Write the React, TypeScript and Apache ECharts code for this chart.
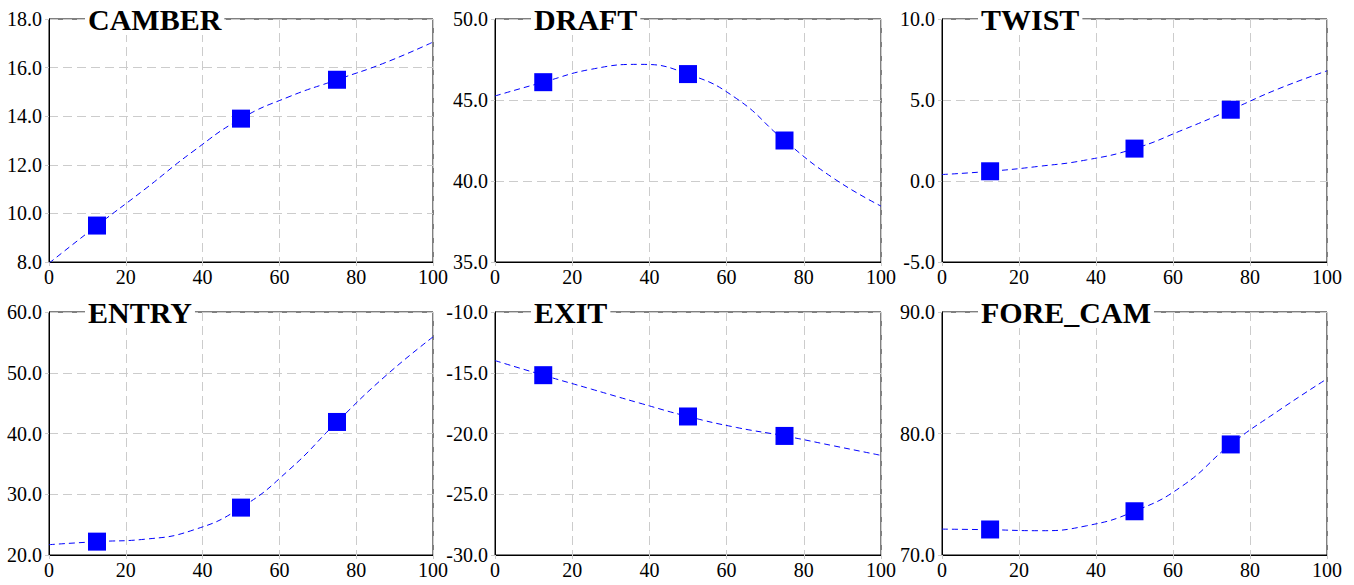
import React, { useEffect, useRef } from "react";
import * as echarts from "echarts";

// Data
const markerX = [12.5, 50, 75];
const curveX = [0, 12.5, 25, 37.5, 50, 62.5, 75, 87.5, 100];

const camberMarkers = [9.5, 13.9, 15.5];
const camberCurve = [7.95, 9.5, 11.0, 12.55, 13.9, 14.8, 15.5, 16.2, 17.05];

const draftMarkers = [46.1, 46.6, 42.5];
const draftCurve = [45.25, 46.1, 46.9, 47.2, 46.6, 45.1, 42.5, 40.2, 38.45];

const twistMarkers = [0.6, 2.0, 4.4];
const twistCurve = [0.4, 0.6, 0.9, 1.3, 2.0, 3.15, 4.4, 5.7, 6.8];

const entryMarkers = [22.2, 27.8, 41.9];
const entryCurve = [21.7, 22.2, 22.6, 24.1, 27.8, 34.0, 41.9, 49.4, 55.9];

const exitMarkers = [-15.2, -18.6, -20.2];
const exitCurve = [-14.0, -15.2, -16.35, -17.5, -18.6, -19.5, -20.2, -21.0, -21.8];

const foreCamMarkers = [72.1, 73.6, 79.1];
const foreCamCurve = [72.13, 72.08, 72.0, 72.4, 73.6, 75.7, 79.1, 81.9, 84.5];

const panelTitles = ["CAMBER", "DRAFT", "TWIST", "ENTRY", "EXIT", "FORE_CAM"];
const yMins = [8, 35, -5, 20, -30, 70];
const yMaxs = [18, 50, 10, 60, -10, 90];
const yIntervals = [2, 5, 5, 10, 5, 10];
const xTickInterval = 20;

const panelMarkers = [camberMarkers, draftMarkers, twistMarkers, entryMarkers, exitMarkers, foreCamMarkers];
const panelCurves = [camberCurve, draftCurve, twistCurve, entryCurve, exitCurve, foreCamCurve];

const gridBoxes = [
  { left: 49, top: 19, width: 384, height: 243 },
  { left: 495, top: 19, width: 386, height: 243 },
  { left: 942, top: 19, width: 385, height: 243 },
  { left: 49, top: 312, width: 384, height: 243 },
  { left: 495, top: 312, width: 386, height: 243 },
  { left: 942, top: 312, width: 385, height: 243 },
];

const SERIF = "Liberation Serif, serif";

export default function App() {
  const ref = useRef<HTMLDivElement>(null);
  useEffect(() => {
    if (!ref.current) return;
    const chart = echarts.init(ref.current, undefined, { renderer: "svg" });
    const grids: any[] = [];
    const xAxes: any[] = [];
    const yAxes: any[] = [];
    const series: any[] = [];
    const titles: any[] = [];
    const labelStyle = { fontFamily: SERIF, fontSize: 20, color: "#000" };
    gridBoxes.forEach((g, i) => {
      grids.push({ ...g, show: true, borderColor: "#000", borderWidth: 1, backgroundColor: "#fff" });
      xAxes.push({
        type: "value",
        gridIndex: i,
        min: 0,
        max: 100,
        interval: xTickInterval,
        axisLine: { show: true, onZero: false, lineStyle: { color: "#000", width: 1 } },
        axisTick: { show: true, length: 4, lineStyle: { color: "#ccc" } },
        axisLabel: {
          margin: 5,
          formatter: (v: number) => "{t|" + v + "}",
          rich: { t: labelStyle },
        },
        splitLine: { show: true, lineStyle: { color: "#ccc", type: [9, 5], width: 1 } },
      });
      yAxes.push({
        type: "value",
        gridIndex: i,
        min: yMins[i],
        max: yMaxs[i],
        interval: yIntervals[i],
        axisLine: { show: true, onZero: false, lineStyle: { color: "#000", width: 1 } },
        axisTick: { show: true, length: 4, lineStyle: { color: "#ccc" } },
        axisLabel: {
          margin: 7,
          formatter: (v: number) => "{t|" + v.toFixed(1) + "}",
          rich: { t: labelStyle },
        },
        splitLine: { show: true, lineStyle: { color: "#ccc", type: [9, 5], width: 1 } },
      });
      series.push({
        type: "line",
        xAxisIndex: i,
        yAxisIndex: i,
        data: curveX.map((x, k) => [x, panelCurves[i][k]]),
        smooth: 0.5,
        showSymbol: false,
        symbol: "none",
        lineStyle: { color: "#0000ff", width: 1, type: [6, 4] },
        z: 3,
      });
      series.push({
        type: "scatter",
        xAxisIndex: i,
        yAxisIndex: i,
        data: markerX.map((x, k) => [x, panelMarkers[i][k]]),
        symbol: "rect",
        symbolSize: 18,
        itemStyle: { color: "#0000ff", opacity: 1 },
        z: 4,
      });
      titles.push({
        text: panelTitles[i],
        left: g.left + 36,
        top: g.top - 15,
        padding: [0, 3],
        backgroundColor: "#fff",
        textStyle: {
          fontFamily: SERIF,
          fontWeight: "bold",
          fontSize: 30,
          lineHeight: 31,
          color: "#000",
        },
      });
    });
    chart.setOption({
      animation: false,
      backgroundColor: "#fff",
      textStyle: { fontFamily: SERIF },
      title: titles,
      grid: grids,
      xAxis: xAxes,
      yAxis: yAxes,
      series,
    });
    return () => chart.dispose();
  }, []);
  return (
    <div
      ref={ref}
      style={{ position: "fixed", left: 0, top: 0, width: 1354, height: 585, background: "#fff" }}
    />
  );
}
